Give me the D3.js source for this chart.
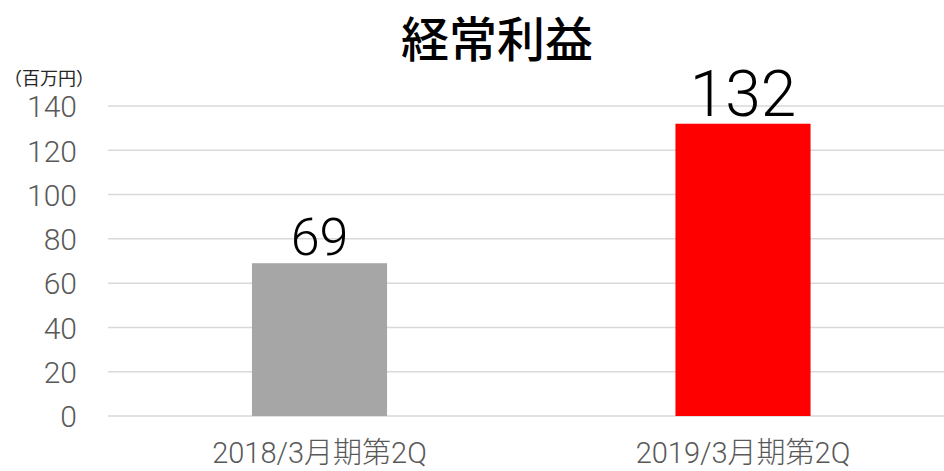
<!DOCTYPE html>
<html>
<head>
<meta charset="utf-8">
<script src="https://cdn.jsdelivr.net/npm/d3@7"></script>
<style>
  body { margin: 0; background: #fff; }
  svg { display: block; }
</style>
</head>
<body>
<svg id="chart" width="944" height="471"></svg>
<script>
// chart data
var categories = ["2018/3月期第2Q", "2019/3月期第2Q"],
    values = [69, 132],
    barColors = ["#a6a6a6", "#ff0000"],
    yTicks = [0, 20, 40, 60, 80, 100, 120, 140],
    title = "経常利益",
    unitLabel = "（百万円）";

var width = 944, height = 471,
    plot = {left: 108, right: 944, top: 106, bottom: 416};

var svg = d3.select("#chart");

var x = d3.scaleBand()
    .domain(categories)
    .range([107.75, 954.75])
    .paddingInner(0.681)
    .paddingOuter(0.3405);

var y = d3.scaleLinear()
    .domain([0, 140])
    .range([plot.bottom, plot.top]);

// gridlines
svg.append("g")
    .selectAll("line")
    .data(yTicks)
    .enter().append("line")
    .attr("x1", plot.left)
    .attr("x2", plot.right)
    .attr("y1", function (d) { return y(d); })
    .attr("y2", function (d) { return y(d); })
    .attr("stroke", "#d9d9d9")
    .attr("stroke-width", 1.5);

// y axis labels
var yAxis = d3.axisLeft(y).tickValues(yTicks).tickSize(0).tickPadding(0);
var gy = svg.append("g")
    .attr("transform", "translate(77,0)")
    .call(yAxis);
gy.select(".domain").remove();
gy.selectAll("text")
    .attr("fill", "#595959")
    .style("font-family", "Roboto, sans-serif")
    .style("font-weight", 300)
    .style("font-size", "30px")
    .attr("dy", "0.36em");

// bars
svg.selectAll(".bar")
    .data(values)
    .enter().append("rect")
    .attr("class", "bar")
    .attr("x", function (d, i) { return x(categories[i]); })
    .attr("width", x.bandwidth())
    .attr("y", function (d) { return y(d); })
    .attr("height", function (d) { return y(0) - y(d); })
    .attr("fill", function (d, i) { return barColors[i]; });

// value labels
svg.selectAll(".value")
    .data(values)
    .enter().append("text")
    .attr("class", "value")
    .attr("x", function (d, i) { return x(categories[i]) + x.bandwidth() / 2; })
    .attr("y", function (d) { return y(d) - 8; })
    .attr("text-anchor", "middle")
    .attr("fill", "#000")
    .style("font-family", "Roboto, sans-serif")
    .style("font-weight", 300)
    .style("font-size", function (d, i) { return i == 0 ? "52px" : "64px"; })
    .text(function (d) { return d; });

// x axis labels
var xAxis = d3.axisBottom(x).tickSize(0).tickPadding(0);
var gx = svg.append("g")
    .attr("transform", "translate(0,463)")
    .call(xAxis);
gx.select(".domain").remove();
gx.selectAll("text")
    .attr("dy", 0)
    .attr("y", 0)
    .attr("fill", "#595959")
    .style("font-family", "Roboto, 'Noto Sans CJK JP', sans-serif")
    .style("font-weight", 300)
    .style("font-size", "29px")
    .text(function (d) { return d; });

// title
svg.append("text")
    .attr("x", 497)
    .attr("y", 57)
    .attr("text-anchor", "middle")
    .attr("fill", "#000")
    .style("font-family", "'Noto Sans CJK JP', sans-serif")
    .style("font-weight", 500)
    .style("font-size", "48px")
    .text(title);

// unit label
svg.append("text")
    .attr("x", 4)
    .attr("y", 85)
    .attr("fill", "#262626")
    .style("font-family", "'Noto Sans CJK JP', sans-serif")
    .style("font-size", "18px")
    .text(unitLabel);
</script>
</body>
</html>
